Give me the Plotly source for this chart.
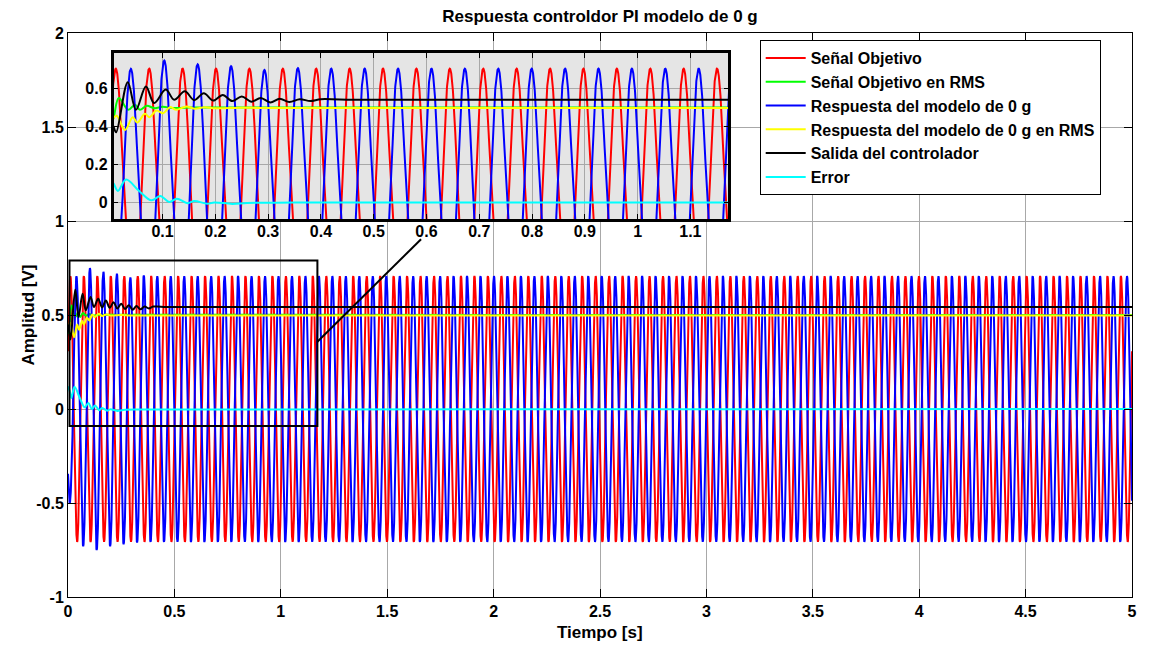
import numpy as np
import plotly.graph_objects as go

# ---------------- values ----------------
TITLE = "Respuesta controldor PI modelo de 0 g"
X_LABEL = "Tiempo [s]"
Y_LABEL = "Amplitud [V]"
SERIES_NAMES = ["Señal Objetivo", "Señal Objetivo en RMS", "Respuesta del modelo de 0 g",
                "Respuesta del modelo de 0 g en RMS", "Salida del controlador", "Error"]
SERIES_COLORS = ["#ff0000", "#00ff00", "#0000ff", "#ffff00", "#000000", "#00ffff"]

# sinusoidal signals (parameters)
SIGNAL_FREQ_HZ = 15.8            # one period ~0.0633 s
TARGET_AMPLITUDE = 0.707         # peak of the target signal (RMS 0.5)
TARGET_FIRST_PEAK_S = 0.0113     # first red crest
RESPONSE_LAG_S = 0.0285          # blue crest lag behind red crest
# absolute extreme of each successive half cycle of the model response (trough, crest, ...)
RESPONSE_HALF_CYCLE_PEAKS = [0.50, 0.706, 0.73, 0.75, 0.75, 0.73, 0.73, 0.72, 0.72, 0.70, 0.71, 0.71]
RESPONSE_STEADY_AMPLITUDE = 0.707
T_END = 5.0
SAMPLES_PER_SECOND = 4000

# slowly varying traces: (time, value) points
GREEN_T = [0.0, 0.007, 0.017, 0.035, 0.0476, 0.057, 0.0698, 0.085, 0.10, 0.12, 0.15, 5.0]
GREEN_V = [0.40, 0.445, 0.551, 0.489, 0.516, 0.489, 0.510, 0.497, 0.505, 0.498, 0.501, 0.500]

YELLOW_T = [0.0, 0.0066, 0.013, 0.0287, 0.0433, 0.052, 0.0665, 0.0747, 0.0887, 0.101, 0.114,
            0.126, 0.145, 0.16, 0.18, 0.20, 0.25, 0.30, 5.0]
YELLOW_V = [0.42, 0.445, 0.457, 0.382, 0.450, 0.421, 0.468, 0.450, 0.485, 0.471, 0.503,
            0.489, 0.507, 0.495, 0.503, 0.497, 0.500, 0.498, 0.498]

BLACK_T = [0.0, 0.007, 0.012, 0.034, 0.0495, 0.0684, 0.084, 0.106, 0.122, 0.142, 0.160, 0.178,
           0.196, 0.214, 0.232, 0.250, 0.268, 0.286, 0.304, 0.322, 0.340, 0.360, 0.380, 0.40,
           0.45, 5.0]
BLACK_V = [0.45, 0.40, 0.37, 0.635, 0.489, 0.613, 0.525, 0.596, 0.542, 0.587, 0.540, 0.577,
           0.538, 0.568, 0.535, 0.560, 0.532, 0.552, 0.528, 0.548, 0.530, 0.545, 0.535, 0.545,
           0.542, 0.542]

CYAN_T = [0.0, 0.0072, 0.0154, 0.0308, 0.055, 0.0789, 0.0957, 0.1126, 0.127, 0.147, 0.16,
          0.185, 0.198, 0.232, 0.26, 0.35, 5.0]
CYAN_V = [0.12, 0.098, 0.059, 0.119, 0.060, 0.009, 0.032, 0.0, 0.018, -0.006, 0.005,
          -0.009, -0.002, -0.010, -0.005, -0.003, 0.0]

# axes / ticks
X_RANGE = [0, 5]
Y_RANGE = [-1, 2]
Y_TICKS = [-1, -0.5, 0, 0.5, 1, 1.5, 2]
Y_TICK_LABELS = ["-1", "-0.5", "0", "0.5", "1", "1.5", "2"]
ZOOM_X_RANGE = [0.007, 1.172]
ZOOM_Y_RANGE = [-0.09, 0.79]
ZOOM_X_TICKS = [0.1, 0.2, 0.3, 0.4, 0.5, 0.6, 0.7, 0.8, 0.9, 1.0, 1.1]
ZOOM_X_TICK_LABELS = ["0.1", "0.2", "0.3", "0.4", "0.5", "0.6", "0.7", "0.8", "0.9", "1", "1.1"]
ZOOM_Y_TICKS = [0, 0.2, 0.4, 0.6]
ZOOM_Y_TICK_LABELS = ["0", "0.2", "0.4", "0.6"]
CONNECTOR_START = (1.172, 0.358)
CONNECTOR_END = (1.659, 0.903)

# ---------------- build the sinusoids ----------------
omega = 2 * np.pi * SIGNAL_FREQ_HZ
t = np.linspace(0, T_END, int(T_END * SAMPLES_PER_SECOND) + 1)
red = TARGET_AMPLITUDE * np.sin(omega * (t - TARGET_FIRST_PEAK_S) + np.pi / 2)
theta = omega * (t - TARGET_FIRST_PEAK_S - RESPONSE_LAG_S) + np.pi / 2
half_idx = (np.floor(theta / np.pi) + 1).astype(int)
peaks = np.array(RESPONSE_HALF_CYCLE_PEAKS)
amp = np.where(half_idx < len(peaks), peaks[np.clip(half_idx, 0, len(peaks) - 1)],
               RESPONSE_STEADY_AMPLITUDE)
blue = amp * np.sin(theta)

FONT = "Liberation Sans, Arial, Helvetica, sans-serif"

fig = go.Figure()
series = [
    (t, red, False),
    (GREEN_T, GREEN_V, True),
    (t, blue, False),
    (YELLOW_T, YELLOW_V, True),
    (BLACK_T, BLACK_V, True),
    (CYAN_T, CYAN_V, True),
]
for (xs, ys, smooth), name, color in zip(series, SERIES_NAMES, SERIES_COLORS):
    fig.add_trace(go.Scatter(x=xs, y=ys, mode="lines", name=name,
                             line=dict(color=color, width=2,
                                       shape="spline" if smooth else "linear"),
                             xaxis="x", yaxis="y", hoverinfo="skip"))
for (xs, ys, smooth), name, color in zip(series, SERIES_NAMES, SERIES_COLORS):
    fig.add_trace(go.Scatter(x=xs, y=ys, mode="lines", name=name, showlegend=False,
                             line=dict(color=color, width=2,
                                       shape="spline" if smooth else "linear"),
                             xaxis="x2", yaxis="y2", hoverinfo="skip"))

tickfont = dict(family=FONT, size=16, color="black", weight="bold")
grid_c = "#a8a8a8"

fig.update_layout(
    width=1149, height=646,
    margin=dict(l=68, r=15, t=33, b=49),
    paper_bgcolor="white", plot_bgcolor="white",
    font=dict(family=FONT, size=17, color="black", weight="bold"),
    title=dict(text=TITLE, x=0.5, xref="paper", xanchor="center",
               y=1 - 16 / 646, yref="container", yanchor="middle",
               font=dict(family=FONT, size=17, color="black", weight="bold")),
    showlegend=True,
    legend=dict(x=(761 - 68) / 1066, y=(597 - 40) / 564, xanchor="left", yanchor="top",
                bgcolor="white", bordercolor="black", borderwidth=1,
                font=dict(family=FONT, size=16, color="black", weight="bold"),
                itemwidth=40, traceorder="normal"),
    xaxis=dict(range=X_RANGE, dtick=0.5, tick0=0, domain=[0, 1], anchor="y",
               showline=True, linecolor="black", linewidth=1, mirror="ticks",
               ticks="inside", ticklen=8, tickcolor="black", tickfont=tickfont,
               showgrid=True, gridcolor=grid_c, gridwidth=1, zeroline=False),
    yaxis=dict(range=Y_RANGE, tickvals=Y_TICKS, ticktext=Y_TICK_LABELS, domain=[0, 1],
               anchor="x", showline=True, linecolor="black", linewidth=1, mirror="ticks",
               ticks="inside", ticklen=8, tickcolor="black", tickfont=tickfont,
               showgrid=True, gridcolor=grid_c, gridwidth=1, zeroline=False),
    xaxis2=dict(range=ZOOM_X_RANGE, tickvals=ZOOM_X_TICKS, ticktext=ZOOM_X_TICK_LABELS,
                domain=[(113.6 - 68) / 1066, (729.6 - 68) / 1066], anchor="y2",
                showline=True, linecolor="black", linewidth=2.5, mirror="ticks",
                ticks="inside", ticklen=5, tickcolor="black", tickfont=tickfont,
                ticklabelstandoff=-4,
                showgrid=True, gridcolor=grid_c, gridwidth=1, zeroline=False),
    yaxis2=dict(range=ZOOM_Y_RANGE, tickvals=ZOOM_Y_TICKS, ticktext=ZOOM_Y_TICK_LABELS,
                domain=[(597 - 219) / 564, (597 - 53) / 564], anchor="x2",
                showline=True, linecolor="black", linewidth=2.5, mirror="ticks",
                ticks="inside", ticklen=5, tickcolor="black", tickfont=tickfont,
                showgrid=True, gridcolor=grid_c, gridwidth=1, zeroline=False),
    shapes=[
        dict(type="rect", xref="x2", yref="y2", layer="below",
             x0=ZOOM_X_RANGE[0], x1=ZOOM_X_RANGE[1], y0=ZOOM_Y_RANGE[0], y1=ZOOM_Y_RANGE[1],
             fillcolor="rgba(0,0,0,0.10)", line=dict(width=0)),
        dict(type="rect", xref="x", yref="y", layer="above",
             x0=ZOOM_X_RANGE[0], x1=ZOOM_X_RANGE[1], y0=ZOOM_Y_RANGE[0], y1=ZOOM_Y_RANGE[1],
             line=dict(color="black", width=2), fillcolor="rgba(0,0,0,0)"),
        dict(type="line", xref="x", yref="y", layer="above",
             x0=CONNECTOR_START[0], y0=CONNECTOR_START[1],
             x1=CONNECTOR_END[0], y1=CONNECTOR_END[1],
             line=dict(color="black", width=2)),
    ],
    annotations=[
        dict(text=X_LABEL, xref="paper", yref="paper", x=0.5, y=(597 - 632.5) / 564,
             xanchor="center", yanchor="middle", showarrow=False,
             font=dict(family=FONT, size=17, color="black", weight="bold")),
        dict(text=Y_LABEL, xref="paper", yref="paper", x=(27.5 - 68) / 1066, y=0.5,
             xanchor="center", yanchor="middle", showarrow=False, textangle=-90,
             font=dict(family=FONT, size=17, color="black", weight="bold")),
    ],
)

fig.write_html("out.html")
